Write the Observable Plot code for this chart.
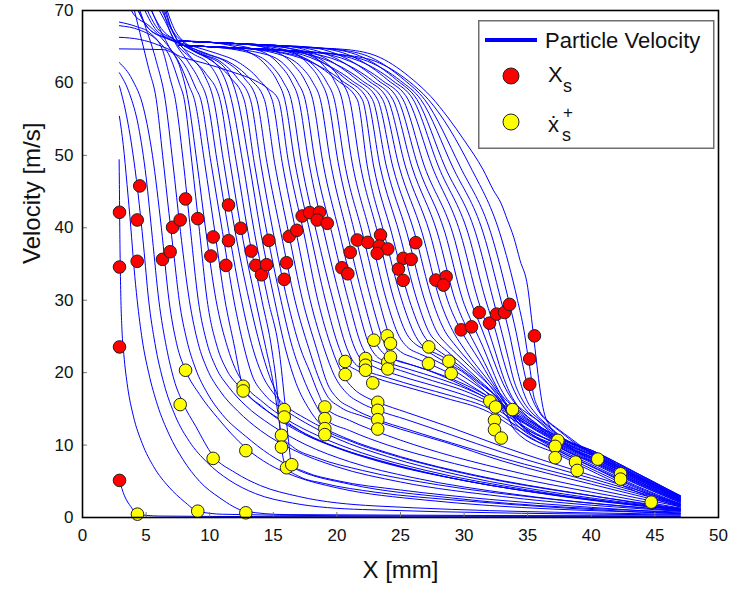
<!DOCTYPE html>
<html><head><meta charset="utf-8">
<script src="https://cdn.jsdelivr.net/npm/d3@7"></script>
<script src="https://cdn.jsdelivr.net/npm/@observablehq/plot@0.6"></script>
<style>
body{margin:0;background:#fff;}
#wrap{position:relative;width:733px;height:595px;font-family:"Liberation Sans",Arial,sans-serif;}
#legend{position:absolute;left:478px;top:20px;font-family:"Liberation Sans",Arial,sans-serif;fill:#111;}
</style></head><body>
<div id="wrap"><div id="chart"></div>
<svg id="legend" width="237" height="130">
<rect x="0.75" y="0.75" width="235" height="127.5" fill="#fff" stroke="#6e6e6e" stroke-width="1.5"/>
<line x1="7" y1="20" x2="59" y2="20" stroke="#0000ff" stroke-width="4"/>
<text x="67" y="27.5" font-size="22">Particle Velocity</text>
<circle cx="33" cy="56" r="8" fill="#ff0000" stroke="#222" stroke-width="1"/>
<text x="70" y="62" font-size="22">X</text><text x="85" y="72" font-size="18">s</text>
<circle cx="33" cy="102" r="8" fill="#ffff00" stroke="#222" stroke-width="1"/>
<text x="70" y="112" font-size="22">ẋ</text><text x="85" y="98" font-size="17">+</text><text x="84" y="121" font-size="18">s</text>
</svg></div>
<script>
const xTicks = [0,5,10,15,20,25,30,35,40,45,50];
const yTicks = [0,10,20,30,40,50,60,70];

// Particle velocity curves: [x (mm), velocity (m/s)]
const curves = [
[[2.9,5.1],[3.3,3.0],[3.8,1.5],[4.32,0.46],[6,0.2],[15,0.12],[47,0.08]],
[[2.88,49.4],[2.9,46],[2.93,40],[2.97,34.6],[3.02,30],[3.1,26],[3.25,22.5],[3.55,18],[4.0,14],[4.7,10.2],[5.6,7],[6.8,4.2],[8.0,2.2],[9.06,0.87],[11,0.45],[20,0.25],[47,0.15]],
[[2.9,55.4],[3.2,51.5],[3.5,46],[3.8,40],[4.05,34.5],[4.3,30],[4.7,24.5],[5.2,20],[5.9,15.5],[6.8,11.5],[7.9,8],[9.2,5],[10.8,2.7],[12.84,0.85],[16,0.4],[47,0.22]],
[[2.9,59.6],[3.4,56],[3.9,51],[4.35,45],[4.8,37.5],[5.2,30],[5.7,24],[6.4,18.5],[7.3,14],[8.4,10.5],[9.8,7.6],[11.5,5.2],[13.6,3.3],[16.5,2.0],[22,1.1],[47,0.35]],
[[2.9,61.4],[3.7,58.5],[4.4,54],[5.0,47],[5.5,38.5],[6.0,30],[6.6,23.5],[7.2,19],[7.9,15.8],[8.9,12.6],[10.27,8.5],[12,6.2],[14,4.4],[17,2.9],[23,1.6],[47,0.45]],
[[2.9,62.8],[3.9,60.5],[4.8,56.5],[5.5,50],[6.2,40],[6.8,30],[7.4,24],[8.1,20.33],[9.2,17],[10.6,13.8],[12.84,9.6],[14.7,7.3],[16.7,5.7],[20,4.1],[27,2.4],[47,0.6]],
[[3.8,72],[4.5,67],[5.2,62],[5.8,57.7],[6.3,50],[6.8,42],[7.2,36],[7.6,30],[8.2,24.5],[8.9,20.5],[9.8,17.2],[11,14.2],[12.84,11.2],[14.7,8.7],[17,6.5],[21,4.6],[29,2.7],[47,0.75]],
[[4.1,72],[5.0,67.5],[5.8,63],[6.5,57.7],[7.1,49],[7.7,39.5],[8.4,30],[9.1,24],[9.8,20.5],[10.8,17.5],[12.2,14.7],[14,12],[16.5,9.4],[20,7.0],[25,4.9],[33,2.9],[47,0.85]],
[[2.9,68.4],[4.2,67.8],[5.3,66.9],[6.3,64.5],[6.9,60.5],[7.3,57.7],[7.9,49.5],[8.5,39.5],[9.1,30],[9.8,24],[10.5,20.7],[11.5,18],[12.8,15.5],[14.8,12.8],[17.5,10.1],[21,7.7],[26,5.5],[34,3.2],[47,0.95]],
[[2.9,67.9],[4.5,67.3],[5.8,66],[6.9,63.5],[7.6,60],[8.0,57.7],[8.6,49],[9.2,39.5],[9.8,30],[10.6,23.5],[11.3,20.5],[12.3,18.1],[13.6,15.9],[15.5,13.6],[18.2,11],[22,8.5],[27,6.2],[35,3.6],[47,1.0]],
[[5.0,72],[5.8,68.5],[6.8,65],[7.7,62],[8.3,57.7],[9.0,49],[9.7,39.5],[10.5,30],[11.4,23.5],[12.0,20.6],[12.63,18.6],[14.2,15.9],[16,13.6],[18.5,11.3],[22,8.9],[27,6.5],[35,3.8],[47,1.1]],
[[3.6,72],[3.9,69.8],[5.3,67.8],[6.5,65.6],[7.6,62.8],[8.4,59.5],[8.8,57.7],[9.6,49],[10.4,39.5],[11.2,30],[11.9,24],[12.63,18.1],[14.2,15.2],[15.7,13.2],[17.3,11.6],[20,9.6],[24,7.4],[30,5.1],[38,2.9],[47,1.15]],
[[2.9,66.3],[4.5,66],[6,65.2],[7.3,64],[8.2,62],[8.9,59.3],[9.3,57.7],[10.1,49],[11.0,39.5],[11.9,30],[12.7,23.5],[13.3,19.8],[14.3,17],[15.86,14.9],[17.5,13.1],[20,10.9],[24,8.4],[30,5.7],[38,3.2],[47,1.2]],
[[6.1,72],[6.6,68.5],[7.3,65.5],[8.2,63.2],[9.2,60.3],[9.8,57.7],[10.6,49],[11.5,39.5],[12.5,30],[13.4,23.3],[14.1,19.8],[15,17.2],[15.86,15.6],[17.6,13.6],[20.5,11.1],[25,8.4],[31,5.8],[39,3.3],[47,1.25]],
[[6.3,72],[6.8,68.5],[7.5,65.8],[8.4,63.8],[9.6,61],[10.3,57.7],[11.1,49],[12.0,39.5],[13.1,30],[14.0,23.5],[14.7,19.5],[15.4,16.5],[15.86,13.87],[17,12.1],[19.5,10],[23.5,7.8],[30,5.1],[38,2.9],[47,1.05]],
[[5.4,72],[6.5,68.5],[7.4,65.4],[8.4,63.6],[9.7,61.3],[10.8,57.7],[11.6,49],[12.5,39.5],[13.6,30],[14.4,23.5],[15.0,18.5],[15.4,14],[15.64,11.34],[16.5,9.8],[18.5,8.2],[22,6.5],[28,4.5],[37,2.5],[47,0.9]],
[[5.7,72],[6.8,68],[7.7,65.2],[8.7,64],[10.0,62.5],[11.2,57.7],[12.1,49],[13.0,39.5],[14.1,30],[14.9,23],[15.3,17.5],[15.5,13],[15.64,9.72],[16.04,6.87],[17,5.7],[19,4.7],[23,3.5],[30,2.3],[38,1.3],[47,0.5]],
[[3.9,72],[5.2,67.5],[6.6,66.2],[7.8,65.3],[9.0,64.2],[10.6,62.4],[11.7,57.7],[12.6,49],[13.5,39.5],[14.6,30],[15.5,22.5],[15.9,16],[16.2,10.5],[16.45,7.29],[17.5,6.3],[20,5.1],[25,3.8],[32,2.5],[40,1.4],[47,0.6]],
[[4.6,72],[5.9,67.5],[7.2,66.0],[8.2,64.9],[9.8,63.7],[11.3,61.8],[12.2,57.7],[13.1,49],[14.0,39.5],[15.1,30],[16.0,23],[16.8,18.5],[17.8,15],[19.05,12.27],[21,10.6],[24,8.8],[28,6.9],[33,5.0],[40,3.0],[47,1.1]],
[[4.9,72],[6.2,67.5],[7.4,65.8],[8.6,64.5],[10.2,63],[11.6,60.8],[12.7,57.7],[13.5,49],[14.5,39.3],[15.6,30],[16.5,23.5],[17.3,19.5],[18.2,16],[19.05,13.65],[21,12],[24,10],[28,8],[33,5.9],[40,3.5],[47,1.3]],
[[6.1,72],[7.0,67.5],[8.0,65.5],[9.0,64.2],[10.8,63],[12.2,60.6],[13.2,57.7],[14.0,49],[15.0,39.3],[16.1,30],[17.1,23.5],[17.9,20],[18.5,17.3],[19.05,15.26],[21,13.4],[24,11.3],[28,9],[33,6.7],[40,4],[47,1.5]],
[[6.3,72],[7.2,67.5],[8.1,65.5],[9.4,64.2],[11.2,63],[12.7,60.7],[13.7,57.7],[14.5,49],[15.6,39.3],[16.7,30],[17.8,23.3],[18.5,19.6],[19.2,16.9],[20.3,15.2],[22,14],[25,12.2],[28.5,10.4],[33,7.8],[40,4.6],[47,1.6]],
[[3.9,72],[5.2,67.5],[6.8,66.0],[8.3,65.0],[10,63.9],[11.8,62.6],[13.2,60.5],[14.3,57.7],[15.1,49],[16.2,39.3],[17.3,30],[18.4,23.3],[19.3,18.3],[20.0,16.5],[21.2,15.1],[23.21,13.51],[25.5,12.2],[29,10.3],[33,8.2],[40,5],[47,1.7]],
[[4.4,72],[5.7,67.5],[7.0,66.0],[8.6,65.1],[10.5,64.1],[12.4,62.7],[13.8,60.6],[14.9,57.7],[15.7,49],[16.8,39.3],[17.9,30],[19.0,23.3],[19.8,19.6],[20.7,17.3],[21.9,15.8],[23.21,14.8],[25.5,13.5],[29,11.4],[33,9.0],[40,5.4],[47,1.8]],
[[2.9,64.7],[6.3,64.6],[7.9,63.5],[9.4,62.8],[11.8,61.5],[13.6,60.3],[14.6,59.2],[15.4,57.7],[16.2,49],[17.4,39.3],[18.5,30],[19.6,23.3],[20.4,19.9],[21.3,17.8],[22.3,16.6],[23.21,15.91],[25.5,14.5],[29,12.4],[33,9.8],[40,5.8],[47,1.9]],
[[7.6,65.8],[10,65.6],[12.9,64.4],[14.4,62.5],[15.3,60.3],[15.9,57.7],[16.7,49],[17.9,39.3],[19.1,30],[20.2,23.3],[20.65,21.54],[21.6,20.3],[23,19.3],[25.5,18.0],[28.5,16.5],[32,14.5],[34,12.3],[37.4,8.95],[40.5,6.3],[43.5,3.9],[47,1.55]],
[[7.6,65.2],[10,65.0],[13.4,64.0],[14.9,62.3],[15.8,60.1],[16.4,57.7],[17.2,49],[18.4,39.3],[19.7,30],[20.8,23.3],[21.3,21.5],[22.25,20.33],[24,19.3],[26.5,18.0],[29,16.8],[32,15.0],[34,12.8],[37.4,9.45],[40.5,6.9],[43.5,4.4],[47,1.9]],
[[7.6,65.8],[10,65.6],[14,64.4],[15.5,62.5],[16.4,60.3],[17.0,57.7],[17.8,49],[19.0,39.3],[20.3,30],[21.4,23.4],[21.9,21.8],[22.8,20.9],[24.5,19.8],[27,18.5],[29.5,17.2],[32,15.5],[34,13.35],[37.4,9.95],[40.5,7.45],[43.5,4.9],[47,2.2]],
[[7.6,65.2],[10,65.0],[14.5,63.9],[16.0,62.3],[16.9,60.1],[17.5,57.7],[18.3,49],[19.6,39.3],[20.9,30],[22.0,23.5],[22.5,22.1],[23.4,21.3],[25,20.3],[27.5,18.9],[30,17.5],[32,15.9],[34,13.75],[37.4,10.3],[40.5,7.9],[43.5,5.3],[47,2.45]],
[[7.6,65.8],[10,65.6],[12.5,65.4],[15.1,64.4],[16.6,62.5],[17.5,60.3],[18.1,57.7],[18.9,49],[20.2,39.3],[21.5,30],[22.6,23.6],[23.1,22.3],[24.0,21.44],[25.6,20.5],[28,19.2],[30.3,17.7],[32,16.3],[34,14.15],[37.4,10.7],[40.5,8.3],[43.5,5.7],[47,2.7]],
[[7.6,65.2],[10,65.0],[12.5,64.8],[15.7,63.8],[17.2,62.2],[18.1,60.1],[18.7,57.7],[19.5,49],[20.8,39.3],[22.1,30],[23.2,23.7],[23.7,22.6],[24.5,21.8],[26,21],[28.5,19.5],[30.6,17.9],[32,16.6],[34,14.4],[37.4,10.95],[40.5,8.6],[43.5,5.95],[47,2.85]],
[[7.6,65.8],[10,65.6],[12.5,65.4],[16.3,64.4],[17.8,62.5],[18.7,60.3],[19.3,57.7],[20.1,49],[21.4,39.3],[22.7,30],[23.8,23.7],[24.21,22.17],[25.3,21.4],[27.2,20.3],[29.2,18.8],[30.9,17.3],[32.3,15.9],[34,13.9],[37.4,10.45],[40.5,8.0],[43.5,5.4],[47,2.5]],
[[7.6,65.2],[10,65.0],[12.5,64.8],[16.8,63.8],[18.3,62.2],[19.2,60.1],[19.8,57.7],[20.6,49],[22.0,39.3],[23.3,30],[24.4,24.0],[25,22.9],[26,22.1],[27.4,21.1],[29.3,19.5],[31,17.7],[32.4,16.1],[34,14.0],[37.4,10.6],[40.5,8.2],[43.5,5.55],[47,2.6]],
[[7.6,65.8],[10,65.6],[12.5,65.4],[17.4,64.4],[18.9,62.5],[19.8,60.3],[20.4,57.7],[21.2,49],[22.6,39.3],[23.9,30],[24.9,25],[25.5,23.6],[26.5,22.6],[27.7,21.7],[29.4,20.1],[31.1,18.1],[32.5,16.4],[34,14.3],[37.4,10.8],[40.5,8.45],[43.5,5.8],[47,2.75]],
[[7.6,65.2],[10,65.0],[12.5,64.8],[15,64.6],[18.0,63.8],[19.5,62.2],[20.4,60.1],[21.0,57.7],[21.8,49],[23.2,39.3],[24.5,30],[25.5,25.3],[26.2,23.9],[27.22,23.1],[28.5,22.0],[29.8,20.4],[31.3,18.4],[32.6,16.7],[34,14.7],[37.4,11.2],[40.5,8.9],[43.5,6.2],[47,3.0]],
[[7.6,65.8],[10,65.6],[12.5,65.4],[14.8,64.8],[17.4,63.5],[20.0,60.4],[21.6,57.7],[22.4,48.4],[23.7,39.3],[25.1,30],[26.2,25],[27.0,23.2],[27.8,22.2],[28.8,21.2],[29.8,20.2],[31,18.5],[32.3,16.3],[34,12.55],[37.4,9.2],[40.5,6.6],[43.5,4.1],[47,1.7]],
[[7.6,65.2],[10,65.0],[12.5,64.8],[15.2,64.3],[17.8,63.0],[20.4,60.3],[22.0,57.7],[22.9,48.4],[24.3,39.3],[25.7,30],[26.8,25.2],[27.5,23.7],[28.5,22.4],[29.6,21],[31,19],[32.4,16.9],[34,13.5],[37.4,10.1],[40.5,7.6],[43.5,5.0],[47,2.3]],
[[7.6,65.8],[10,65.6],[12.5,65.4],[15.6,65.0],[18.2,63.5],[20.8,60.4],[22.4,57.7],[23.4,48.4],[24.9,39.3],[26.3,30],[27.3,25.4],[28.0,24.0],[28.9,22.6],[30,20.9],[31.3,18.8],[32.6,16.6],[34,13.1],[37.4,9.7],[40.5,7.15],[43.5,4.65],[47,2.05]],
[[7.6,65.2],[10,65.0],[12.5,64.8],[16.0,64.4],[18.6,63.0],[21.2,60.3],[22.8,57.7],[23.9,48.4],[25.5,39.3],[26.9,30],[27.9,25.5],[28.6,24.0],[29.4,22.6],[30.4,20.9],[31.6,18.9],[32.8,16.8],[34,13.6],[37.4,10.2],[40.5,7.75],[43.5,5.15],[47,2.35]],
[[7.6,65.8],[10,65.6],[12.5,65.4],[16.4,65.0],[19.0,63.5],[21.6,60.4],[23.2,57.7],[24.4,48.4],[26.1,39.3],[27.5,30],[28.5,25.7],[29.2,24],[30,22.3],[31,20.3],[32.1,18],[33,15.8],[34,12.0],[37.4,8.7],[40.5,6.0],[43.5,3.6],[47,1.4]],
[[7.6,65.2],[10,65.0],[12.5,64.8],[15,64.6],[16.8,64.3],[19.4,63.0],[22.0,60.3],[23.6,57.7],[24.9,48.4],[26.7,39.3],[28.1,30],[29.1,25.8],[29.8,23.8],[30.6,21.8],[31.5,19.8],[32.5,17.6],[33.3,15.6],[34.2,13.2],[37.4,9.8],[40.5,7.3],[43.5,4.75],[47,2.1]],
[[7.6,65.8],[10,65.6],[12.5,65.4],[15,65.2],[17.2,64.9],[19.8,63.5],[22.4,60.4],[24.0,57.7],[25.4,48.4],[27.3,39.3],[28.7,30],[29.7,26],[30.4,23.9],[31.2,21.7],[32.02,19.2],[32.8,17.2],[33.6,15.7],[34.5,14.3],[37.4,11.1],[40.5,8.75],[43.5,6.1],[47,2.9]],
[[7.6,65.2],[10,65.0],[12.5,64.8],[15,64.6],[17.6,64.2],[20.2,63.0],[22.8,60.3],[24.4,57.7],[25.9,48.4],[27.9,39.3],[29.3,30],[30.2,26.2],[30.9,23.8],[31.6,21.4],[32.3,18.9],[33.0,16.6],[33.8,14.6],[34.7,12.5],[37.4,9.3],[40.5,6.7],[43.5,4.25],[47,1.8]],
[[7.6,65.8],[10,65.6],[12.5,65.4],[15,65.2],[18.0,64.9],[20.6,63.5],[23.2,60.4],[24.8,57.7],[26.4,48.4],[28.5,39.3],[29.9,30],[30.8,26.2],[31.5,23.5],[32.1,20.9],[32.7,18.4],[33.4,16.3],[34.3,14.8],[35.3,13.5],[37.4,10.7],[40.5,8.3],[43.5,5.7],[47,2.7]],
[[7.6,65.2],[10,65.0],[12.5,64.8],[15,64.6],[18.4,64.2],[21.0,63.0],[23.6,60.3],[25.2,57.7],[26.9,48.4],[29.1,39.3],[30.5,30],[31.4,26.0],[32.0,23.2],[32.6,20.4],[33.2,18.0],[33.9,16.0],[34.8,14.6],[35.9,13.3],[37.4,11.2],[40.5,8.9],[43.5,6.2],[47,3.0]],
[[7.6,65.8],[10,65.6],[12.5,65.4],[15,65.2],[18.8,64.8],[21.4,63.5],[24.0,60.4],[25.6,57.7],[27.5,48.4],[29.7,39.3],[31.1,30],[31.9,25.9],[32.5,22.6],[33.0,19.8],[33.6,17.2],[34.3,15.2],[35.2,13.6],[36.2,12.0],[37.4,9.95],[40.5,7.45],[43.5,4.9],[47,2.2]],
[[7.6,65.2],[10,65.0],[12.5,64.8],[15,64.6],[17.5,64.3],[19.2,64.1],[21.8,63.0],[24.4,60.3],[26.0,57.7],[28.0,48.4],[30.3,39.3],[31.7,30],[32.5,25.6],[33.0,22.3],[33.5,19.4],[34.1,16.9],[34.8,15.0],[35.7,13.5],[36.6,12.1],[37.6,10.45],[40.5,8.0],[43.5,5.4],[47,2.5]],
[[7.6,65.8],[10,65.6],[12.5,65.4],[15,65.2],[17.5,64.9],[19.5,64.7],[22.1,63.5],[24.7,60.4],[26.3,57.7],[28.5,48.4],[30.9,39.3],[32.3,30],[33.0,25.3],[33.5,21.8],[33.9,19.0],[34.5,16.5],[35.2,14.7],[36.1,13.3],[37,12.0],[37.8,10.95],[40.5,8.6],[43.5,5.95],[47,2.85]],
[[7.6,65.2],[10,65.0],[12.5,64.8],[15,64.6],[17.5,64.3],[19.8,64.0],[22.4,63.0],[25.0,60.3],[26.6,57.7],[29.1,48.4],[31.5,39.3],[32.9,30],[33.6,25.1],[34.0,21.7],[34.4,18.8],[34.9,16.3],[35.6,14.4],[36.4,13.0],[37.2,11.8],[38.0,10.2],[40.5,7.75],[43.5,5.15],[47,2.35]],
[[7.6,65.8],[10,65.6],[12.5,65.4],[15,65.2],[17.5,64.9],[20.1,64.6],[22.7,63.5],[25.3,60.4],[26.9,57.7],[29.7,48.4],[32.1,39.3],[33.5,30],[34.1,25.5],[34.5,22.0],[34.9,18.8],[35.4,16.2],[36.0,14.3],[36.8,12.9],[37.6,11.8],[38.3,10.8],[40.5,8.45],[43.5,5.8],[47,2.75]],
[[7.6,65.2],[10,65.0],[12.5,64.8],[15,64.6],[17.5,64.3],[20.4,63.9],[23.0,63.0],[25.6,60.3],[27.2,57.7],[30.5,48.4],[32.8,39.3],[34.2,30],[34.7,25.9],[35.0,22.5],[35.2,20.3],[35.4,17.5],[35.8,15.2],[36.5,13.5],[37.4,12.2],[38.4,10.9],[40.5,8.2],[43.5,5.55],[47,2.6]],
[[7.6,65.8],[10,65.6],[12.5,65.4],[15,65.2],[17.5,64.9],[20.8,64.6],[23.4,63.5],[26.0,60.4],[27.4,58.1],[28.7,55.3],[30.0,52.1],[31.5,48],[32.3,45.2],[32.9,43.4],[33.4,41.1],[33.9,38.7],[34.4,35.5],[35.0,31.8],[35.3,27.5],[35.5,24.5],[35.8,19.9],[36.2,15.2],[36.8,12.4],[37.6,11.1],[40.5,8.9],[43.1,6.1],[47,3.0]]
];

// X_s points (red)
const redX = [2.91,2.91,2.91,2.91,4.50,4.30,4.30,6.29,6.89,7.08,7.68,8.10,9.06,10.09,10.27,11.27,11.48,11.48,12.44,13.26,13.62,14.07,14.47,14.65,15.86,16.04,16.25,16.85,17.27,17.85,18.63,18.45,19.24,21.05,20.39,20.86,21.60,22.43,23.43,23.33,24.00,23.17,26.20,25.21,25.84,24.84,25.21,27.78,28.59,28.38,29.77,30.58,31.19,32.00,32.55,33.18,33.57,35.53,35.16,35.16];
const redV = [42.14,34.58,23.55,5.12,45.78,41.08,35.37,35.64,36.69,40.07,41.08,43.98,41.26,36.10,38.73,34.81,38.22,43.15,39.93,36.79,34.81,33.51,34.90,38.27,32.88,35.17,38.82,39.65,41.63,42.09,42.14,41.08,40.62,36.61,34.48,33.65,38.31,37.99,39.00,37.48,37.07,36.47,37.94,35.78,35.64,34.30,32.74,32.78,33.24,32.09,25.91,26.32,28.31,26.83,28.08,28.31,29.42,25.08,21.89,18.40];

// x-dot_s^+ points (yellow)
const yelX = [4.32,8.10,7.68,10.27,9.06,12.63,12.63,12.84,12.84,15.86,15.86,15.64,15.64,16.04,16.45,20.65,20.65,19.05,19.05,19.05,19.05,22.25,22.25,22.25,22.82,22.90,23.95,24.21,24.00,24.00,24.21,23.21,23.21,23.21,23.21,27.22,27.20,28.80,28.99,32.02,32.47,32.39,32.39,32.92,33.81,37.37,37.16,37.16,38.76,38.89,40.51,42.30,42.30,44.71];
const yelV = [0.46,20.33,15.59,8.16,0.87,18.12,17.47,9.23,0.65,14.90,13.87,11.34,9.72,6.87,7.29,21.54,19.74,15.26,13.65,12.27,11.44,21.95,21.02,20.33,18.58,24.48,25.08,24.02,21.44,20.51,22.17,15.91,14.80,13.51,12.21,23.55,21.26,21.58,19.88,16.09,15.26,13.42,12.13,10.97,14.90,10.65,9.82,8.26,7.65,6.50,8.06,6.04,5.30,2.12];

const lineData = curves.flatMap((c, i) => c.map(([x, v]) => ({x, v, id: i})));
const reds = redX.map((x, i) => ({x, v: redV[i]}));
const yels = yelX.map((x, i) => ({x, v: yelV[i]}));

const chart = Plot.plot({
  width: 733, height: 595,
  marginLeft: 82, marginRight: 15, marginTop: 10, marginBottom: 78,
  style: {fontFamily: "'Liberation Sans', Arial, sans-serif", fontSize: "17px", color: "#111", background: "#fff", overflow: "visible"},
  x: {domain: [0, 50]},
  y: {domain: [0, 70]},
  marks: [
    Plot.line(lineData, {x: "x", y: "v", z: "id", stroke: "#0000ff", strokeWidth: 1, curve: "monotone-x", clip: true}),
    Plot.dot(reds, {x: "x", y: "v", r: 6.3, fill: "#ff0000", stroke: "#222", strokeWidth: 1}),
    Plot.dot(yels, {x: "x", y: "v", r: 6.3, fill: "#ffff00", stroke: "#222", strokeWidth: 1}),
    Plot.axisX({ticks: xTicks, tickSize: -5, tickFormat: () => "", stroke: "#777", label: null}),
    Plot.axisY({ticks: yTicks, tickSize: -5, tickFormat: () => "", stroke: "#777", label: null}),
    Plot.axisX({ticks: xTicks, tickSize: 0, tickPadding: 11, label: null}),
    Plot.axisY({ticks: yTicks, tickSize: 0, tickPadding: 9, label: null}),
    Plot.frame({stroke: "#000", strokeWidth: 1.6}),
    Plot.text(["X [mm]"], {frameAnchor: "bottom", dy: 60, fontSize: 24}),
    Plot.text(["Velocity [m/s]"], {frameAnchor: "left", dx: -50, rotate: -90, fontSize: 24})
  ]
});
document.getElementById("chart").appendChild(chart);
</script>
</body></html>
